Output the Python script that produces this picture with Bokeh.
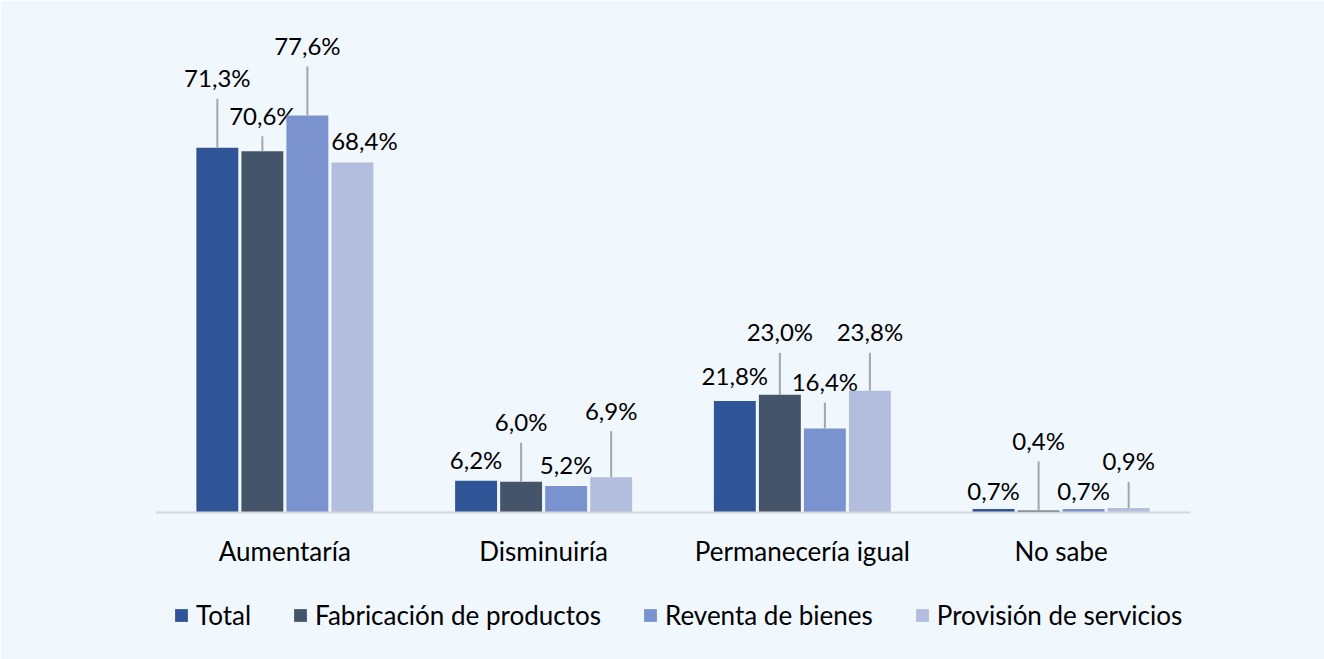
from bokeh.plotting import figure
from bokeh.models import ColumnDataSource, FactorRange, Range1d, Legend, LegendItem
from bokeh.transform import dodge
from bokeh.core.properties import value
from bokeh.embed import file_html
from bokeh.resources import INLINE

# ---- data ----
categories = ["Aumentaría", "Disminuiría", "Permanecería igual", "No sabe"]
series_names = ["Total", "Fabricación de productos", "Reventa de bienes", "Provisión de servicios"]
total = [71.3, 6.2, 21.8, 0.7]
fabricacion = [70.6, 6.0, 23.0, 0.4]
reventa = [77.6, 5.2, 16.4, 0.7]
provision = [68.4, 6.9, 23.8, 0.9]
label_texts = {
    "Total": ["71,3%", "6,2%", "21,8%", "0,7%"],
    "Fabricación de productos": ["70,6%", "6,0%", "23,0%", "0,4%"],
    "Reventa de bienes": ["77,6%", "5,2%", "16,4%", "0,7%"],
    "Provisión de servicios": ["68,4%", "6,9%", "23,8%", "0,9%"],
}

# ---- style / layout ----
colors = ["#2F5597", "#44546A", "#7A93CE", "#B3BEDF"]
bg = "#F0F7FD"
FONT = "Lato"
offsets = [-0.261, -0.087, 0.087, 0.261]
bar_w = 0.162
Y_MAX = 95
PLOT_H = 486          # pixels from top of frame to the baseline
BELOW_H = 147         # pixels from baseline to bottom of figure (labels + legend)
PPU = PLOT_H / Y_MAX  # pixels per data unit
# label placements (pixels above bar top, and horizontal pixel shift)
label_dy = {
    "Total": [70, 21, 25, 18],
    "Fabricación de productos": [36, 60, 63, 70],
    "Reventa de bienes": [70, 21, 47, 18],
    "Provisión de servicios": [22, 67, 59, 47],
}
label_dx = {
    "Total": [0, 0, 0, 0],
    "Fabricación de productos": [0, 0, 0, 0],
    "Reventa de bienes": [0, 0, 0, 0],
    "Provisión de servicios": [12, 0, 0, 0],
}
LEADER_GAP = 21

series_vals = [total, fabricacion, reventa, provision]

p = figure(
    x_range=FactorRange(*categories, range_padding=0),
    y_range=Range1d(-BELOW_H / PPU, Y_MAX),
    frame_width=1035, frame_height=PLOT_H + BELOW_H,
    min_border_left=155, min_border_right=134,
    min_border_top=26, min_border_bottom=0,
    output_backend="svg", toolbar_location=None, tools="",
)
p.background_fill_color = bg
p.border_fill_color = bg
p.outline_line_color = None
p.xgrid.visible = False
p.ygrid.visible = False
p.yaxis.visible = False

xa = p.xaxis[0]
xa.fixed_location = 0
xa.axis_line_color = "#D9D9D9"
xa.axis_line_width = 2
xa.major_tick_line_color = None
xa.minor_tick_line_color = None
xa.major_tick_out = 0
xa.major_tick_in = 0
xa.major_label_text_font = FONT
xa.major_label_text_font_size = "26px"
xa.major_label_text_color = "#000000"
xa.major_label_standoff = 22

legend_items = []
for name, vals, off, col in zip(series_names, series_vals, offsets, colors):
    src = ColumnDataSource(dict(
        cat=categories, val=vals, txt=label_texts[name],
        ly=[v + dy / PPU for v, dy in zip(vals, label_dy[name])],
        dx=label_dx[name],
    ))
    r = p.vbar(x=dodge("cat", off, range=p.x_range), top="val", bottom=0, width=bar_w,
               source=src, fill_color=col, line_color=None)
    legend_items.append(LegendItem(label=name, renderers=[r]))

    # leader lines
    lc, l0, l1 = [], [], []
    for c, v, dy in zip(categories, vals, label_dy[name]):
        if dy > 30:
            lc.append(c); l0.append(v); l1.append(v + (dy - LEADER_GAP) / PPU)
    if lc:
        lsrc = ColumnDataSource(dict(cat=lc, y0=l0, y1=l1))
        p.segment(x0=dodge("cat", off, range=p.x_range), x1=dodge("cat", off, range=p.x_range),
                  y0="y0", y1="y1", source=lsrc, line_color="#A6A6A6", line_width=2)

    p.text(x=dodge("cat", off, range=p.x_range), y="ly", text="txt", x_offset="dx", source=src,
           text_font=value(FONT), text_font_size="24px", text_color="#000000",
           text_align="center", text_baseline="middle")

legend = Legend(items=legend_items, orientation="horizontal", location=(18, 28))
legend.label_text_font = FONT
legend.label_text_font_size = "26px"
legend.label_text_color = "#000000"
legend.glyph_width = 16
legend.glyph_height = 16
legend.label_standoff = 7
legend.spacing = 41
legend.padding = 0
legend.margin = 0
legend.background_fill_alpha = 0
legend.border_line_color = None
p.add_layout(legend, "center")

open("out.html", "w").write(file_html(p, INLINE))
